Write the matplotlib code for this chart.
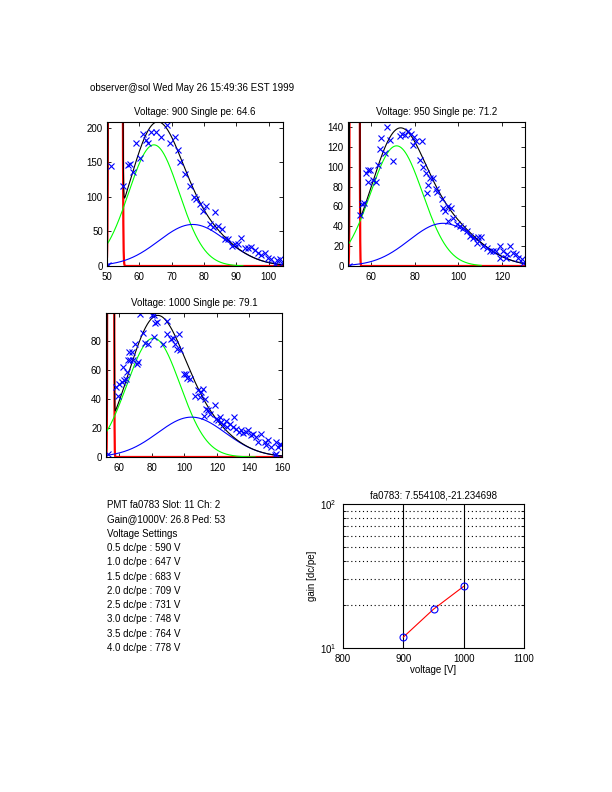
import numpy as np
import matplotlib
matplotlib.use('Agg')
import matplotlib.pyplot as plt
from matplotlib.ticker import FixedLocator, LogLocator, NullFormatter

plt.rcParams['font.family'] = ['Liberation Sans', 'DejaVu Sans']
FS = 7

# ---------------- data ----------------
header = "observer@sol Wed May 26 15:49:36 EST 1999"
voltages = [900, 950, 1000]
single_pe = [64.6, 71.2, 79.1]

# histogram points
p1_x = [50.3, 51.3, 54.9, 56.5, 57.2, 58.0, 58.9, 60.1, 61.0, 62.2, 62.7, 63.7, 65.0, 66.8,
        68.6, 69.4, 70.9, 71.8, 72.7, 74.0, 75.6, 76.8, 77.6, 78.7, 79.7, 80.7, 81.8, 82.8,
        83.4, 84.3, 85.4, 86.4, 87.4, 88.5, 89.5, 90.5, 91.5, 92.6, 93.6, 94.6, 95.7, 96.7,
        97.7, 98.8, 99.8, 100.8, 101.9, 102.6, 103.4, 104.2]
p1_y = [1.5, 145, 115, 146, 148, 136, 177, 156, 190, 182, 177, 194, 194, 187,
        203, 177, 186, 167, 150, 133, 116, 100, 97, 90, 80, 87, 60.5, 56,
        77.5, 58, 53, 39, 39, 29, 31.5, 32.5, 40, 26.6, 26.6, 27.6, 22.8, 19.4,
        16, 19.4, 12, 9.7, 3.4, 8.2, 9.7, 4.8]

p2_x = [50.1, 55.0, 56.0, 57.0, 57.6, 58.8, 59.8, 58.8, 61.0, 62.3, 63.4, 64.1, 64.9, 66.4,
        67.2, 69.0, 70.2, 73.3, 74.5, 75.6, 77.1, 78.2, 79.4, 79.8, 80.9, 82.4, 83.2, 84.0,
        85.2, 85.5, 86.0, 87.0, 88.5, 89.8, 90.1, 92.4, 93.1, 93.9, 95.1, 95.4, 96.9, 97.7,
        99.2, 100.8, 102.3, 103.8, 105.3, 106.9, 108.4, 109.2, 110.4, 111.5, 113.0, 114.5,
        116.0, 117.2, 119.0, 119.0, 120.6, 122.1, 122.0, 123.7, 125.2, 126.4, 127.5, 129.0,
        129.8]
p2_y = [0.5, 51, 62, 63, 94, 97, 97, 85, 87, 85, 102, 118, 129, 114,
        140, 127, 106, 131, 133, 132, 136, 133, 122, 130, 126, 107, 126, 100,
        94, 74, 82, 89, 89, 78, 75, 67, 58.6, 55, 45, 60, 58.6, 48.6,
        42, 40, 38.5, 35, 30, 28.5, 23.5, 29, 29, 20, 18.4, 15,
        15, 15, 20, 8.4, 15, 11.7, 8.4, 20, 13.4, 11.7, 8.4, 6.7,
        3.4]

p3_x = [52.8, 57.8, 59.4, 60.0, 61.4, 62.0, 63.0, 64.0, 64.5, 65.5, 66.1, 66.5, 67.6, 68.6,
        69.6, 70.6, 71.7, 72.7, 74.7, 75.7, 77.8, 79.8, 81.3, 81.3, 81.9, 83.3, 86.6, 89.0,
        89.4, 91.5, 92.7, 94.2, 95.2, 96.8, 97.6, 99.7, 100.9, 101.7, 103.4, 106.4, 108.5,
        109.5, 110.5, 111.5, 112.0, 112.6, 113.2, 114.6, 115.6, 118.7, 119.7, 120.7, 121.8,
        122.8, 123.8, 125.8, 126.3, 127.9, 129.9, 130.3, 132.0, 133.6, 135.0, 136.0, 138.0,
        139.1, 141.2, 142.2, 144.2, 145.3, 147.3, 149.4, 150.4, 151.4, 153.5, 155.5, 156.5,
        156.5, 157.5, 158.6, 159.6]
p3_y = [2.3, 48, 42, 50, 51.7, 62, 53, 54, 58.6, 66.7, 72.4, 66.7, 72.4, 66.7,
        78, 64.4, 65.5, 98.4, 85.5, 78.6, 78, 97.7, 97.7, 82.8, 92.4, 93, 78, 94,
        84.6, 81.6, 82, 78, 74.7, 85, 73.6, 57.5, 57, 54.7, 54, 41.8, 46,
        41.4, 44.8, 47, 28, 40, 33.3, 32.2, 29.9, 35.6, 26.4, 25.3, 27.6,
        24, 21.8, 24.6, 21, 23, 20.7, 27.6, 19.5, 17.2, 18.9, 16.6, 17.2,
        18.9, 15, 16, 13.8, 10.3, 15.6, 10.3, 8, 11.5, 6.9, 1.1, 10.3,
        2.3, 6.9, 9.2, 8]

hist_x = [p1_x, p2_x, p3_x]
hist_y = [p1_y, p2_y, p3_y]

# fit components (amplitude, mean, sigma)
ped_amp = [1.0e7, 1.0e7, 1.6e6]
ped_mean = [52.6, 52.65, 54.7]
ped_sigma = [0.5, 0.5, 0.5]
spe_amp = [175, 121, 82]
spe_mean = [64.5, 71.8, 81.0]
spe_sigma = [7.8, 11.9, 16.4]
spe_end = [92.0, 110.5, 143.5]
dpe_amp = [60, 43, 27.5]
dpe_mean = [76.5, 93.1, 104.4]
dpe_sigma = [10.5, 15.5, 20.8]

x_range = [(50.0, 104.4), (49.6, 130.5), (51.8, 160.0)]
y_top = [208, 145, 99.3]
x_ticks = [[50, 60, 70, 80, 90, 100], [60, 80, 100, 120], [60, 80, 100, 120, 140, 160]]
y_ticks = [[0, 50, 100, 150, 200], [0, 20, 40, 60, 80, 100, 120, 140], [0, 20, 40, 60, 80]]

info_lines = ["PMT fa0783 Slot: 11 Ch: 2",
              "Gain@1000V: 26.8 Ped: 53",
              "Voltage Settings",
              "0.5 dc/pe : 590 V",
              "1.0 dc/pe : 647 V",
              "1.5 dc/pe : 683 V",
              "2.0 dc/pe : 709 V",
              "2.5 dc/pe : 731 V",
              "3.0 dc/pe : 748 V",
              "3.5 dc/pe : 764 V",
              "4.0 dc/pe : 778 V"]

gain_v = [900, 950, 1000]
gain_val = [11.9, 18.6, 26.8]
gain_title = "fa0783: 7.554108,-21.234698"
gain_xticks = [800, 900, 1000, 1100]

# ---------------- figure ----------------
W, H = 612, 792
fig = plt.figure(figsize=(W / 100, H / 100), dpi=100)


def ax_px(l, t, r, b):
    return fig.add_axes([l / W, 1 - b / H, (r - l) / W, (b - t) / H])


def gauss(x, a, m, s):
    return a * np.exp(-(x - m) ** 2 / (2 * s ** 2))


def style(ax):
    ax.tick_params(direction='in', length=3, width=0.6, labelsize=FS,
                   top=True, right=True)
    ax.tick_params(axis='x', pad=4)
    ax.tick_params(axis='y', pad=3)
    for sp in ax.spines.values():
        sp.set_linewidth(0.8)


boxes = [(107, 122, 283, 266), (348, 122, 525, 266), (106, 313, 282, 457)]
for i in range(3):
    ax = ax_px(*boxes[i])
    x0, x1 = x_range[i]
    xs = np.arange(x0, x1 + 0.01, 0.01)
    ped = gauss(xs, ped_amp[i], ped_mean[i], ped_sigma[i])
    spe = gauss(xs, spe_amp[i], spe_mean[i], spe_sigma[i])
    dpe = gauss(xs, dpe_amp[i], dpe_mean[i], dpe_sigma[i])
    tot = ped + spe + dpe
    ax.plot(xs, ped, color='red', lw=1.6)
    m = xs <= spe_end[i]
    ax.plot(xs[m], spe[m], color=(0, 1, 0), lw=0.8)
    ax.plot(xs, dpe, color='blue', lw=0.8)
    ax.plot(xs, tot, color='black', lw=0.8)
    ax.plot(hist_x[i], hist_y[i], 'x', color='blue', ms=4, mew=0.8)
    ax.set_xlim(x0, x1)
    ax.set_ylim(0, y_top[i])
    ax.xaxis.set_major_locator(FixedLocator(x_ticks[i]))
    ax.yaxis.set_major_locator(FixedLocator(y_ticks[i]))
    style(ax)
    ax.set_title(f"Voltage: {voltages[i]} Single pe: {single_pe[i]}", fontsize=FS, pad=5)

fig.text(90 / W, 1 - 88 / H, header, fontsize=FS, ha='left', va='center')

y0 = 505
for k, line in enumerate(info_lines):
    fig.text(107 / W, 1 - (y0 + k * 14.3) / H, line, fontsize=FS, ha='left', va='center')

# gain plot
ax = ax_px(343, 504, 524, 648)
ax.set_yscale('log')
ax.set_xlim(800, 1100)
ax.set_ylim(10, 100)
for yv in range(20, 100, 10):
    ax.axhline(yv, color='black', lw=0.8, ls=(0, (1, 2.5)))
for xv in gain_xticks[1:-1]:
    ax.axvline(xv, color='black', lw=0.8)
ax.plot(gain_v, gain_val, color='red', lw=0.8)
ax.plot(gain_v, gain_val, 'o', mfc='none', mec='blue', ms=5, mew=0.8)
ax.xaxis.set_major_locator(FixedLocator(gain_xticks))
ax.yaxis.set_major_locator(LogLocator(base=10))
ax.yaxis.set_minor_formatter(NullFormatter())
style(ax)
ax.tick_params(axis='y', pad=5)
ax.tick_params(which='minor', direction='in', length=2, top=True, right=True)
ax.set_title(gain_title, fontsize=FS, pad=4)
ax.set_xlabel("voltage [V]", fontsize=FS, labelpad=1)
ax.set_ylabel("gain [dc/pe]", fontsize=FS, labelpad=2)

fig.savefig('out.png', dpi=100)
